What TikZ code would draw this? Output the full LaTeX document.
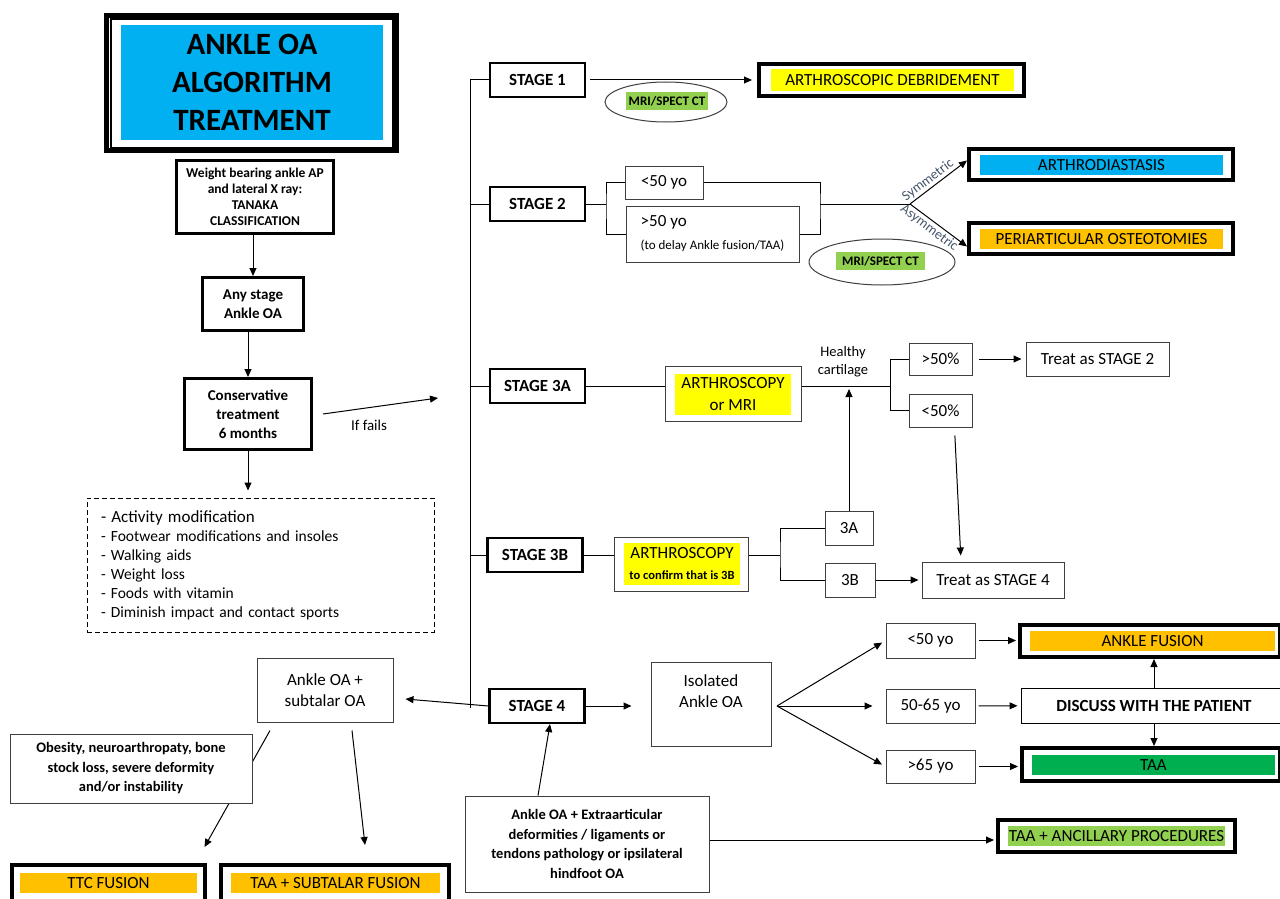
\documentclass[tikz,border=0pt]{standalone}
\usepackage{fontspec}
\setmainfont{Carlito}
\usetikzlibrary{arrows.meta,shapes.geometric}
\definecolor{oasky}{HTML}{00B0F0}
\definecolor{oalemon}{HTML}{FFFF00}
\definecolor{oaamber}{HTML}{FFC000}
\definecolor{oaleaf}{HTML}{00B050}
\definecolor{oalime}{HTML}{92D050}
\definecolor{edge}{HTML}{3F3F3F}
\definecolor{slate}{HTML}{44546A}
\tikzset{
  box/.style={draw=edge, line width=1pt, fill=white, align=center, inner sep=0pt, font=\fontsize{17}{21}\selectfont},
  stg/.style={box, draw=black, line width=2.2pt, minimum width=95pt, minimum height=34pt, font=\bfseries\fontsize{17}{21}\selectfont},
  keybox/.style={box, draw=black, line width=3pt, font=\bfseries\fontsize{15}{19}\selectfont},
  notebox/.style={box, font=\bfseries\fontsize{14.5}{19.5}\selectfont},
  frame/.style={draw=black, line width=4pt, fill=white, inner sep=0pt},
  tag/.style={inner sep=0pt, align=center, font=\fontsize{17}{21}\selectfont},
  oval/.style={ellipse, draw=edge, line width=1pt, inner sep=0pt},
  gtag/.style={fill=oalime, inner sep=0pt, minimum height=18pt, font=\bfseries\fontsize{13}{15}\selectfont},
  ln/.style={draw=black, line width=1pt},
  arr/.style={ln, -{Triangle[length=8pt,width=7pt]}},
  lab/.style={font=\fontsize{15}{18}\selectfont},
  slab/.style={text=slate, font=\fontsize{14}{16}\selectfont, inner sep=1.5pt},
}

\begin{document}
\begin{tikzpicture}[x=1pt, y=-1pt]
  \useasboundingbox (0,0) rectangle (1280,899);
  % title
  \node[draw=black, line width=5pt, minimum width=290pt, minimum height=135pt] (ttlout) at (251.5,83) {};
  \node[draw=black, line width=1.2pt, minimum width=282pt, minimum height=129pt] (ttlin) at (252,83.5) {};
  \node[tag, fill=oasky, minimum width=262pt, minimum height=115pt, font=\bfseries\fontsize{31}{38}\selectfont] (ttl) at (252,82.5) {ANKLE OA\\ALGORITHM\\TREATMENT};

  % left column
  \node[keybox, minimum width=157pt, minimum height=73pt, font=\bfseries\fontsize{13.5}{16}\selectfont] (xray) at (255,197) {Weight bearing ankle AP\\and lateral X ray:\\TANAKA\\CLASSIFICATION};
  \node[keybox, minimum width=101pt, minimum height=53pt] (any) at (253,304) {Any stage\\Ankle OA};
  \node[keybox, minimum width=127pt, minimum height=71pt] (cons) at (248,414) {Conservative\\treatment\\6 months};
  \node[box, draw=black, dash pattern=on 5pt off 3pt, minimum width=347pt, minimum height=134pt, text width=319pt, align=left, font=\fontsize{15.5}{19}\selectfont] (care) at (260.5,565) {{\fontsize{17}{19}\selectfont - Activity modification}\\- Footwear modifications and insoles\\- Walking aids\\- Weight loss\\- Foods with vitamin\\- Diminish impact and contact sports};
  \draw[arr] (xray.south -| any.north) -- (any.north);
  \draw[arr] (any.south -| cons.north) -- (cons.north);
  \draw[arr, shorten >=7pt] (cons.south) -- (cons.south |- care.north);
  \coordinate (failtip) at (438,398);
  \draw[arr] ([xshift=10pt]cons.east) -- (failtip);
  \node[lab] (fails) at (369,425) {If fails};

  % stages
  \node[stg] (s1) at (537.5,80) {STAGE 1};
  \node[stg] (s2) at (537.5,204) {STAGE 2};
  \node[stg] (s3a) at (537.5,386) {STAGE 3A};
  \node[stg] (s3b) at (535,555) {STAGE 3B};
  \node[stg] (s4) at (537,706) {STAGE 4};
  \coordinate (top) at (470,80);
  \coordinate (bot) at (470,708);
  \draw[ln] (top) -- (bot);
  \draw[ln] (s1.west) -- (s1.west -| top);
  \draw[ln] (s2.west) -- (s2.west -| top);
  \draw[ln] (s3a.west) -- (s3a.west -| top);
  \draw[ln] (s3b.west) -- (s3b.west -| top);

  % stage 1
  \node[frame, minimum width=265pt, minimum height=32pt] (debr) at (891.5,80) {};
  \node[tag, fill=oalemon, minimum width=243pt, minimum height=22pt] (debrt) at (892.5,80) {ARTHROSCOPIC DEBRIDEMENT};
  \draw[arr, shorten <=4pt, shorten >=5pt] (s1) -- (debr);
  \node[oval, minimum width=122pt, minimum height=40pt] (mri1) at (666,102) {};
  \node[gtag, minimum width=82pt] (mri1t) at (667,101) {MRI/SPECT CT};

  % stage 2
  \node[box, minimum width=78pt, minimum height=33pt] (y2) at (664,182.5) {<50 yo};
  \node[box, minimum width=173pt, minimum height=56pt, align=left] (o2) at (712.5,234) {>50 yo\\[2pt]{\fontsize{13}{15}\selectfont (to delay Ankle fusion/TAA)}};
  \coordinate (b2) at (606,204);
  \coordinate (m2) at (820,204);
  \coordinate (fork2) at (910,204);
  \draw[ln] (s2) -- (b2);
  \draw[ln] (y2.west) -| (b2) |- (o2.west);
  \draw[ln] (y2.east) -| (m2) |- (o2.east);
  \draw[ln] (m2) -- (fork2);
  \node[frame, minimum width=264pt, minimum height=31pt] (dias) at (1101,164.5) {};
  \node[tag, fill=oasky, minimum width=243pt, minimum height=20pt] (diast) at (1101.5,165) {ARTHRODIASTASIS};
  \node[frame, minimum width=264pt, minimum height=31pt] (ost) at (1101,238.5) {};
  \node[tag, fill=oaamber, minimum width=243pt, minimum height=20pt] (ostt) at (1101.5,239) {PERIARTICULAR OSTEOTOMIES};
  \draw[arr] (fork2) -- ([yshift=4pt]dias.west) node[slab, pos=0.4, sloped, above] {Symmetric};
  \draw[arr] (fork2) -- ([yshift=-8pt]ost.west) node[slab, pos=0.42, sloped, below] {Asymmetric};
  \node[oval, minimum width=146pt, minimum height=46pt] (mri2) at (882,262) {};
  \node[gtag, minimum width=89pt] (mri2t) at (880.5,261) {MRI/SPECT CT};

  % stage 3A
  \node[box, minimum width=136pt, minimum height=55pt] (ar3a) at (733,393.5) {};
  \node[tag, fill=oalemon, minimum width=116pt, minimum height=41pt, font=\fontsize{17}{22}\selectfont] (ar3at) at (733,394.5) {ARTHROSCOPY\\or MRI};
  \coordinate (b3a) at (890,386);
  \draw[ln] (s3a.east) -- (s3a.east -| ar3a.west);
  \draw[ln] (s3a.east -| ar3a.east) -- (b3a);
  \node[box, minimum width=63pt, minimum height=32pt] (gt) at (940.5,359) {>50\%};
  \node[box, minimum width=63pt, minimum height=33pt] (lt) at (940.5,410.5) {<50\%};
  \draw[ln] (gt.west) -| (b3a) |- (lt.west);
  \node[lab, align=center, font=\fontsize{14.5}{18}\selectfont] (hc) at (843,362) {Healthy\\cartilage};
  \node[box, minimum width=143pt, minimum height=34pt] (tr2) at (1097.5,359) {Treat as STAGE 2};
  \draw[arr, shorten <=6pt, shorten >=4pt] (gt) -- (tr2);

  % stage 3B
  \node[box, minimum width=134pt, minimum height=54pt] (ar3b) at (681,564) {};
  \node[tag, fill=oalemon, minimum width=116pt, minimum height=42pt] (ar3bt) at (682,564) {ARTHROSCOPY\\{\bfseries\fontsize{12.5}{14}\selectfont to confirm that is 3B}};
  \coordinate (b3b) at (780,555);
  \draw[ln] (s3b.east) -- (s3b.east -| ar3b.west);
  \draw[ln] (s3b.east -| ar3b.east) -- (b3b);
  \node[box, minimum width=48pt, minimum height=34pt] (c3a) at (849,528) {3A};
  \node[box, minimum width=50pt, minimum height=34pt] (c3b) at (850,580) {3B};
  \draw[ln] (c3a.west) -| (b3b) |- (c3b.west);
  \draw[arr, shorten >=3pt] (c3a.north) -- (c3a.north |- b3a);
  \node[box, minimum width=142pt, minimum height=36pt] (tr4) at (993,580) {Treat as STAGE 4};
  \draw[arr, shorten >=3pt] (c3b) -- (tr4);
  \draw[arr, shorten <=8pt, shorten >=6pt] ([xshift=14pt]lt.south) -- ([xshift=-32pt]tr4.north);

  % stage 4
  \node[box, minimum width=120pt, minimum height=84pt] (iso) at (711,704) {Isolated\\Ankle OA\\[4pt]\mbox{}};
  \draw[arr, shorten >=19pt] (s4.east) -- (s4.east -| iso.west);
  \coordinate (fork4) at (777,706);
  \node[box, minimum width=89pt, minimum height=35pt] (a1) at (930.5,640.5) {<50 yo};
  \node[box, minimum width=89pt, minimum height=34pt] (a2) at (930.5,706) {50-65 yo};
  \node[box, minimum width=89pt, minimum height=33pt] (a3) at (930.5,766.5) {>65 yo};
  \draw[arr, shorten >=4pt] (fork4) -- (a1.west);
  \draw[arr, shorten >=13pt] (fork4) -- (a2.west);
  \draw[arr, shorten >=4pt] (fork4) -- (a3.west);
  \node[frame, minimum width=260pt, minimum height=32pt] (fus) at (1150,641) {};
  \node[tag, fill=oaamber, minimum width=245pt, minimum height=20pt] (fust) at (1152.5,641) {ANKLE FUSION};
  \node[box, draw=black, minimum width=266pt, minimum height=35pt, font=\bfseries\fontsize{17}{21}\selectfont] (disc) at (1154,705.5) {DISCUSS WITH THE PATIENT};
  \node[frame, minimum width=258pt, minimum height=33pt] (taa) at (1151,764.5) {};
  \node[tag, fill=oaleaf, minimum width=243pt, minimum height=20pt] (taat) at (1153.5,765) {TAA};
  \draw[arr, shorten <=3pt, shorten >=2pt] (a1.east) -- (a1.east -| fus.west);
  \draw[arr, shorten <=3pt, shorten >=3pt] (a2) -- (disc);
  \draw[arr, shorten <=3pt, shorten >=2pt] (a3.east) -- (a3.east -| taa.west);
  \draw[arr] (disc.north) -- (disc.north |- fus.south);
  \draw[arr] (disc.south) -- (disc.south |- taa.north);

  % extraarticular
  \node[notebox, minimum width=244pt, minimum height=96pt] (extra) at (587,844) {Ankle OA + Extraarticular\\deformities / ligaments or\\tendons pathology or ipsilateral\\hindfoot OA};
  \node[frame, minimum width=237pt, minimum height=32pt] (anc) at (1116.5,836) {};
  \node[tag, fill=oalime, minimum width=217pt, minimum height=20pt] (anct) at (1116.5,836) {TAA + ANCILLARY PROCEDURES};
  \draw[arr, shorten >=2pt] ([yshift=4pt]extra.east) -- ([yshift=4pt]extra.east -| anc.west);
  \draw[arr] ([xshift=-49pt]extra.north) -- ([xshift=13pt]s4.south);

  % subtalar
  \node[box, minimum width=136pt, minimum height=64pt] (sub) at (325,690) {Ankle OA +\\subtalar OA};
  \draw[arr] (s4.west) -- ([xshift=12pt,yshift=-9pt]sub.east);
  \node[frame, minimum width=193pt, minimum height=36pt] (ttc) at (108.5,883) {};
  \node[tag, fill=oaamber, minimum width=177pt, minimum height=20pt] (ttct) at (108.5,883) {TTC FUSION};
  \node[frame, minimum width=228pt, minimum height=36pt] (tsf) at (335,883) {};
  \node[tag, fill=oaamber, minimum width=209pt, minimum height=20pt] (tsft) at (335.5,883) {TAA + SUBTALAR FUSION};
  \draw[arr] ([xshift=-55pt,yshift=-8pt]sub.south) -- ([xshift=96pt,yshift=16pt]ttc.north);
  \draw[arr] ([xshift=27pt,yshift=-8pt]sub.south) -- ([xshift=30pt,yshift=18pt]tsf.north);
  \node[notebox, minimum width=242pt, minimum height=69pt] (obes) at (131,768.5) {Obesity, neuroarthropaty, bone\\stock loss, severe deformity\\and/or instability};
\end{tikzpicture}
\end{document}
